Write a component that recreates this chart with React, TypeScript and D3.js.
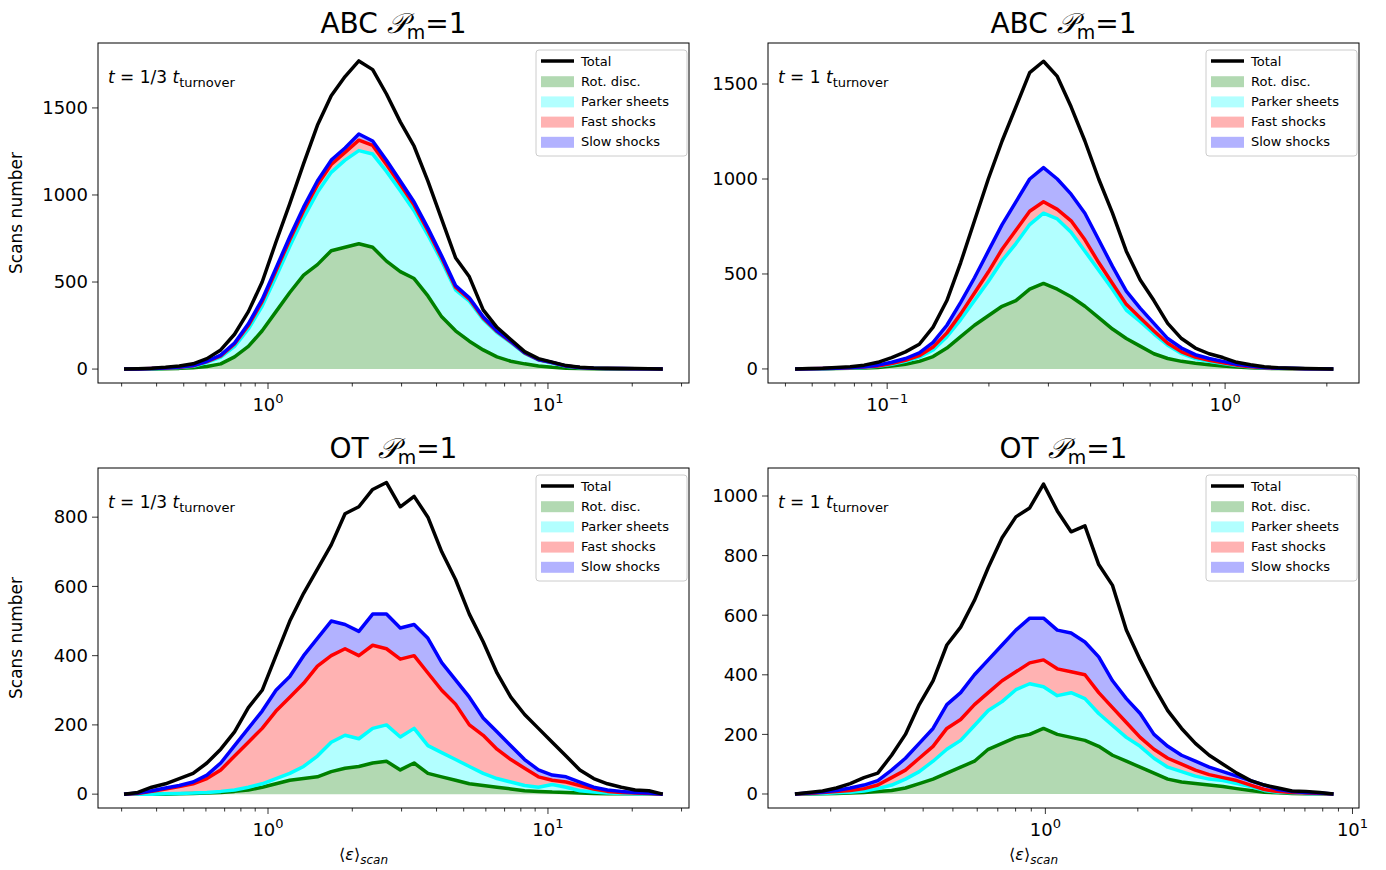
import React, { useEffect, useRef } from 'react';
import * as d3 from 'd3';

// bin ranges (first / last bin centre) and count
const binCount = 40;

// ABC t=1/3
const abc1Range = [0.306, 25.7];
const abc1Total = [0,2,5,10,18,30,60,110,200,330,500,730,950,1180,1400,1570,1680,1770,1720,1580,1420,1280,1080,860,640,530,340,240,170,100,60,40,20,10,6,5,3,3,2,1];
const abc1Slow = [0,1,3,6,12,20,45,80,150,260,400,580,760,930,1080,1200,1270,1350,1310,1200,1080,960,810,650,480,410,300,220,160,95,55,38,18,9,5,4,3,2,2,1];
const abc1Fast = [0,1,3,6,11,19,43,76,144,250,388,565,742,910,1058,1175,1245,1315,1285,1175,1060,942,795,638,470,402,294,216,157,93,54,37,17,9,5,4,3,2,2,1];
const abc1Parker = [0,1,2,5,9,16,38,68,130,230,362,530,705,870,1015,1130,1200,1255,1235,1135,1025,910,770,620,455,390,285,210,152,90,52,35,16,8,5,3,3,2,1,1];
const abc1Rot = [0,0,1,2,4,8,15,30,70,130,220,330,440,540,600,680,700,720,700,620,560,520,420,300,220,160,110,70,45,30,18,10,5,3,2,1,1,1,0,0];

// ABC t=1
const abc2Range = [0.0534, 2.09];
const abc2Total = [0,2,4,8,12,20,35,60,90,130,220,360,560,780,1000,1200,1380,1560,1620,1540,1380,1200,1000,820,620,470,360,240,160,110,80,60,35,22,12,6,4,2,1,0];
const abc2Slow = [0,1,2,4,7,12,20,35,55,85,140,230,350,480,620,760,880,1000,1060,1000,920,820,680,540,410,320,240,160,110,75,55,40,25,15,8,4,3,1,1,0];
const abc2Fast = [0,1,2,3,6,10,16,28,45,70,115,190,290,400,510,630,730,830,880,840,780,680,560,450,340,270,200,135,90,62,45,32,20,12,6,3,2,1,1,0];
const abc2Parker = [0,1,1,3,5,8,14,25,40,62,100,170,260,360,460,570,660,760,820,790,720,620,520,420,310,250,185,125,82,55,40,28,18,10,5,3,2,1,1,0];
const abc2Rot = [0,0,1,2,3,5,8,15,25,40,65,110,170,230,280,330,360,420,450,420,380,330,270,210,160,120,80,55,40,30,22,15,10,6,3,2,1,1,0,0];

// OT t=1/3
const ot1Range = [0.306, 25.7];
const ot1Total = [0,5,20,30,45,60,90,130,180,250,300,400,500,580,650,720,810,830,880,900,830,860,800,700,620,520,440,350,280,230,190,150,110,70,45,30,20,12,10,0];
const ot1Slow = [0,3,10,18,25,35,55,90,140,190,240,300,340,400,450,500,490,470,520,520,480,490,450,380,330,280,220,180,140,100,70,55,50,35,20,12,8,5,3,0];
const ot1Fast = [0,2,8,15,22,30,45,70,110,150,190,240,280,320,370,400,420,400,430,420,390,400,350,300,260,200,170,130,100,75,50,40,35,25,15,8,5,3,2,0];
const ot1Parker = [0,0,0,1,2,3,5,8,12,20,30,45,60,80,110,150,170,160,190,200,165,190,140,120,100,80,60,45,35,25,20,28,20,10,6,3,2,1,1,0];
const ot1Rot = [0,0,0,0,1,2,3,5,8,12,20,30,40,45,50,65,75,80,90,95,70,90,60,50,40,30,25,20,15,10,8,6,5,3,2,1,1,1,1,0];

// OT t=1
const ot2Range = [0.153, 8.67];
const ot2Total = [0,5,10,20,35,55,70,130,200,300,380,500,560,650,760,860,930,960,1040,950,880,900,770,700,550,450,360,280,220,170,130,100,70,45,30,20,10,8,5,0];
const ot2Slow = [0,3,7,12,20,30,45,80,120,170,220,300,340,400,450,500,550,590,590,550,540,510,460,380,320,270,200,160,130,110,90,75,60,45,30,15,8,5,3,0];
const ot2Fast = [0,2,5,8,12,18,30,55,80,120,160,220,250,300,340,380,410,440,450,420,410,400,340,290,240,190,150,120,100,80,65,55,45,30,15,8,5,3,2,0];
const ot2Parker = [0,1,2,4,6,10,18,30,50,75,110,150,180,230,280,310,350,370,360,330,340,320,270,230,190,160,120,90,75,60,50,45,35,25,12,6,4,2,1,0];
const ot2Rot = [0,0,1,2,3,5,8,12,20,35,50,70,90,110,150,170,190,200,220,200,190,180,160,130,110,90,70,50,40,35,30,25,18,12,6,4,2,1,1,0];

const legendLabels = ['Total', 'Rot. disc.', 'Parker sheets', 'Fast shocks', 'Slow shocks'];

interface Panel {
  title: string;
  time: string;
  range: number[];
  xDomain: [number, number];
  yDomain: [number, number];
  yTicks: number[];
  series: number[][]; // rot, parker, fast, slow, total
  left: number;
  top: number;
  ylabel: boolean;
  xlabel: boolean;
}

const panels: Panel[] = [
  { title: 'ABC', time: '1/3', range: abc1Range, xDomain: [0.247, 31.9], yDomain: [-80, 1873], yTicks: [0, 500, 1000, 1500],
    series: [abc1Rot, abc1Parker, abc1Fast, abc1Slow, abc1Total], left: 98, top: 43, ylabel: true, xlabel: false },
  { title: 'ABC', time: '1', range: abc2Range, xDomain: [0.0444, 2.49], yDomain: [-74, 1716], yTicks: [0, 500, 1000, 1500],
    series: [abc2Rot, abc2Parker, abc2Fast, abc2Slow, abc2Total], left: 768, top: 43, ylabel: false, xlabel: false },
  { title: 'OT', time: '1/3', range: ot1Range, xDomain: [0.247, 31.9], yDomain: [-40, 942], yTicks: [0, 200, 400, 600, 800],
    series: [ot1Rot, ot1Parker, ot1Fast, ot1Slow, ot1Total], left: 98, top: 468, ylabel: true, xlabel: true },
  { title: 'OT', time: '1', range: ot2Range, xDomain: [0.125, 10.5], yDomain: [-47, 1094], yTicks: [0, 200, 400, 600, 800, 1000],
    series: [ot2Rot, ot2Parker, ot2Fast, ot2Slow, ot2Total], left: 768, top: 468, ylabel: false, xlabel: true },
];

const W = 591;
const H = 340;
const fills = ['rgba(0,128,0,0.3)', 'rgba(0,255,255,0.3)', 'rgba(255,0,0,0.3)', 'rgba(0,0,255,0.3)'];
const strokes = ['#008000', '#00ffff', '#ff0000', '#0000ff', '#000000'];
const font = 'DejaVu Sans, sans-serif';

const App: React.FC = () => {
  const svgRef = useRef<SVGSVGElement>(null);

  useEffect(() => {
    if (!svgRef.current) return;
    const root = d3.select(svgRef.current);
    root.selectAll('*').remove();

    panels.forEach(p => {
      const g = root.append('g').attr('transform', `translate(${p.left},${p.top})`);
      const x = d3.scaleLog().domain(p.xDomain).range([0, W]);
      const y = d3.scaleLinear().domain(p.yDomain).range([H, 0]);
      const l0 = Math.log10(p.range[0]);
      const l1 = Math.log10(p.range[1]);
      const xs = d3.range(binCount).map(i => Math.pow(10, l0 + (l1 - l0) * i / (binCount - 1)));

      // stacked fills
      p.series.slice(0, 4).forEach((s, k) => {
        const lower = k === 0 ? s.map(() => 0) : p.series[k - 1];
        const area = d3.area<number>()
          .x((_, i) => x(xs[i]))
          .y0((_, i) => y(lower[i]))
          .y1(d => y(d));
        g.append('path').datum(s).attr('d', area).attr('fill', fills[k]);
      });
      const line = d3.line<number>().x((_, i) => x(xs[i])).y(d => y(d));
      p.series.forEach((s, k) => {
        g.append('path').datum(s).attr('d', line).attr('fill', 'none')
          .attr('stroke', strokes[k]).attr('stroke-width', 3.5).attr('stroke-linejoin', 'round');
      });

      // frame
      g.append('rect').attr('width', W).attr('height', H).attr('fill', 'none').attr('stroke', '#000').attr('stroke-width', 1);

      // x axis
      const major = [0.01, 0.1, 1, 10, 100].filter(v => v >= p.xDomain[0] && v <= p.xDomain[1]);
      const minor: number[] = [];
      [0.01, 0.1, 1, 10].forEach(dec => {
        for (let m = 2; m < 10; m++) {
          const v = dec * m;
          if (v >= p.xDomain[0] && v <= p.xDomain[1]) minor.push(v);
        }
      });
      minor.forEach(v => g.append('line').attr('x1', x(v)).attr('x2', x(v)).attr('y1', H).attr('y2', H + 3.5).attr('stroke', '#000').attr('stroke-width', 0.8));
      major.forEach(v => {
        g.append('line').attr('x1', x(v)).attr('x2', x(v)).attr('y1', H).attr('y2', H + 6).attr('stroke', '#000').attr('stroke-width', 0.8);
        const e = Math.round(Math.log10(v));
        const t = g.append('text').attr('x', x(v)).attr('y', H + 28).attr('text-anchor', 'middle')
          .attr('font-family', font).attr('font-size', 18);
        t.append('tspan').text('10');
        t.append('tspan').attr('dy', -8).attr('font-size', 13).text(e < 0 ? '\u2212' + Math.abs(e) : String(e));
      });

      // y axis
      p.yTicks.forEach(v => {
        g.append('line').attr('x1', -6).attr('x2', 0).attr('y1', y(v)).attr('y2', y(v)).attr('stroke', '#000').attr('stroke-width', 0.8);
        g.append('text').attr('x', -10).attr('y', y(v)).attr('dy', '0.35em').attr('text-anchor', 'end')
          .attr('font-family', font).attr('font-size', 18).text(String(v));
      });

      // title
      const title = g.append('text').attr('x', W / 2).attr('y', -10).attr('text-anchor', 'middle')
        .attr('font-family', font).attr('font-size', 28);
      title.append('tspan').text(p.title + ' ');
      title.append('tspan').attr('font-style', 'italic').text('\uD835\uDCAB');
      title.append('tspan').attr('dy', 6).attr('font-size', 19).text('m');
      title.append('tspan').attr('dy', -6).text('=1');

      // time annotation
      const ann = g.append('text').attr('x', 10).attr('y', 40).attr('font-family', font).attr('font-size', 17);
      ann.append('tspan').attr('font-style', 'italic').text('t');
      ann.append('tspan').text(` = ${p.time} `);
      ann.append('tspan').attr('font-style', 'italic').text('t');
      ann.append('tspan').attr('dy', 4).attr('font-size', 13).text('turnover');

      // legend
      const lg = g.append('g').attr('transform', `translate(${W - 153},7)`);
      lg.append('rect').attr('width', 151).attr('height', 106).attr('rx', 3).attr('fill', 'rgba(255,255,255,0.8)').attr('stroke', '#ccc');
      legendLabels.forEach((lab, i) => {
        const yy = 11 + i * 20.2;
        if (i === 0) {
          lg.append('line').attr('x1', 5).attr('x2', 38).attr('y1', yy).attr('y2', yy).attr('stroke', '#000').attr('stroke-width', 3.5);
        } else {
          lg.append('rect').attr('x', 5).attr('y', yy - 5).attr('width', 33).attr('height', 11).attr('fill', fills[i - 1]);
        }
        lg.append('text').attr('x', 45).attr('y', yy).attr('dy', '0.35em').attr('font-family', font).attr('font-size', 13).text(lab);
      });

      if (p.ylabel) {
        g.append('text').attr('transform', `translate(-76,${H / 2}) rotate(-90)`).attr('text-anchor', 'middle')
          .attr('font-family', font).attr('font-size', 17).text('Scans number');
      }
      if (p.xlabel) {
        const xl = g.append('text').attr('x', W / 2 - 30).attr('y', H + 52).attr('text-anchor', 'middle')
          .attr('font-family', font).attr('font-size', 16);
        xl.append('tspan').text('\u27E8');
        xl.append('tspan').attr('font-style', 'italic').text('\u03B5');
        xl.append('tspan').text('\u27E9');
        xl.append('tspan').attr('dy', 4).attr('font-size', 12).attr('font-style', 'italic').text('scan');
      }
    });
  }, []);

  return <svg ref={svgRef} width={1386} height={870} style={{ position: 'absolute', left: 0, top: 0, background: '#fff' }} />;
};

export default App;
